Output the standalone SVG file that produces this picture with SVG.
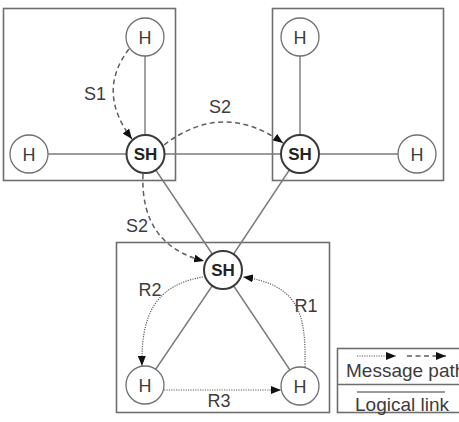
<svg xmlns="http://www.w3.org/2000/svg" width="459" height="422" viewBox="0 0 459 422">
  <style>
    .area { fill: none; stroke: #6e6e6e; stroke-width: 1.6; }
    .link { fill: none; stroke: #7a7a7a; stroke-width: 1.4; }
    .dash { fill: none; stroke: #5e5e5e; stroke-width: 1.5; stroke-dasharray: 5 3.5; }
    .dot { fill: none; stroke: #5e5e5e; stroke-width: 1.2; stroke-dasharray: 1.2 1.2; }
    .host circle { fill: #fff; stroke: #707070; stroke-width: 1.3; }
    .hub circle { fill: #fff; stroke: #3a3a3a; stroke-width: 2; }
    .host text { font-family: "Liberation Sans", Arial, sans-serif; font-size: 18px; fill: #3c3c3c; text-anchor: middle; }
    .hub text { font-family: "Liberation Sans", Arial, sans-serif; font-size: 17px; font-weight: bold; fill: #222; text-anchor: middle; }
    .lbl { font-family: "Liberation Sans", Arial, sans-serif; font-size: 18px; fill: #3c3c3c; text-anchor: middle; }
    .leg { font-family: "Liberation Sans", Arial, sans-serif; font-size: 19px; fill: #3c3c3c; }
  </style>
  <defs>
    <marker id="arrow" viewBox="0 0 10 8" refX="10" refY="4" markerWidth="10" markerHeight="8" markerUnits="userSpaceOnUse" orient="auto">
      <path d="M0,0 L10,4 L0,8 Z" fill="#111"/>
    </marker>
  </defs>

  <!-- domain areas -->
  <g id="areas">
    <rect class="area" x="3.5" y="8.5" width="172" height="172"/>
    <rect class="area" x="272.5" y="8.5" width="171" height="172"/>
    <rect class="area" x="116.5" y="242.5" width="213" height="170"/>
  </g>

  <!-- logical links and message paths -->
  <g id="connectors">
    <line class="link" x1="145" y1="37" x2="145" y2="154"/>
    <line class="link" x1="29" y1="154" x2="145" y2="154"/>
    <line class="link" x1="145" y1="154" x2="300" y2="154"/>
    <line class="link" x1="300" y1="37" x2="300" y2="154"/>
    <line class="link" x1="300" y1="154" x2="417" y2="154"/>
    <line class="link" x1="145" y1="154" x2="223" y2="270"/>
    <line class="link" x1="300" y1="154" x2="223" y2="270"/>
    <line class="link" x1="223" y1="270" x2="145" y2="385"/>
    <line class="link" x1="223" y1="270" x2="300" y2="385"/>

    <path class="dash" d="M129,49 Q96,92 132,139" marker-end="url(#arrow)"/>
    <path class="dash" d="M164,145 Q223,100 283,143" marker-end="url(#arrow)"/>
    <path class="dash" d="M143,174 Q140,245 204,261" marker-end="url(#arrow)"/>
    <path class="dot" d="M203,277 C155,285 141,315 142,366" marker-end="url(#arrow)"/>
    <path class="dot" d="M305,367 C306,315 300,285 243,277" marker-end="url(#arrow)"/>
    <path class="dot" d="M164,390 L281,390" marker-end="url(#arrow)"/>
  </g>

  <!-- path labels -->
  <g id="labels">
    <text class="lbl" x="95" y="100">S1</text>
    <text class="lbl" x="220" y="113">S2</text>
    <text class="lbl" x="137" y="232">S2</text>
    <text class="lbl" x="150" y="296">R2</text>
    <text class="lbl" x="306" y="312">R1</text>
    <text class="lbl" x="219" y="407">R3</text>
  </g>

  <!-- nodes -->
  <g id="h-a1" class="host"><circle cx="145" cy="37" r="19"/><text x="145" y="43.5">H</text></g>
  <g id="h-a2" class="host"><circle cx="29" cy="154" r="19"/><text x="29" y="160.5">H</text></g>
  <g id="sh-a" class="hub"><circle cx="145.5" cy="154" r="19"/><text x="145.5" y="160">SH</text></g>
  <g id="h-b1" class="host"><circle cx="300" cy="37" r="19"/><text x="300" y="43.5">H</text></g>
  <g id="sh-b" class="hub"><circle cx="300" cy="154" r="19"/><text x="300" y="160">SH</text></g>
  <g id="h-b2" class="host"><circle cx="417" cy="154" r="19"/><text x="417" y="160.5">H</text></g>
  <g id="sh-c" class="hub"><circle cx="223" cy="270" r="19"/><text x="223" y="276">SH</text></g>
  <g id="h-c1" class="host"><circle cx="145" cy="385" r="19"/><text x="145" y="391.5">H</text></g>
  <g id="h-c2" class="host"><circle cx="300" cy="386" r="19"/><text x="300" y="392.5">H</text></g>

  <!-- legend -->
  <g id="legend">
    <rect class="area" x="337.5" y="348.5" width="130" height="64"/>
    <line class="area" x1="337.5" y1="384.5" x2="467.5" y2="384.5"/>
    <path class="dot" d="M357,356 L396,356" marker-end="url(#arrow)"/>
    <path class="dash" d="M407,356 L446,356" marker-end="url(#arrow)"/>
    <text class="leg" x="346" y="377">Message path</text>
    <line class="link" x1="357" y1="392" x2="445" y2="392"/>
    <text class="leg" x="355" y="411">Logical link</text>
  </g>
</svg>
